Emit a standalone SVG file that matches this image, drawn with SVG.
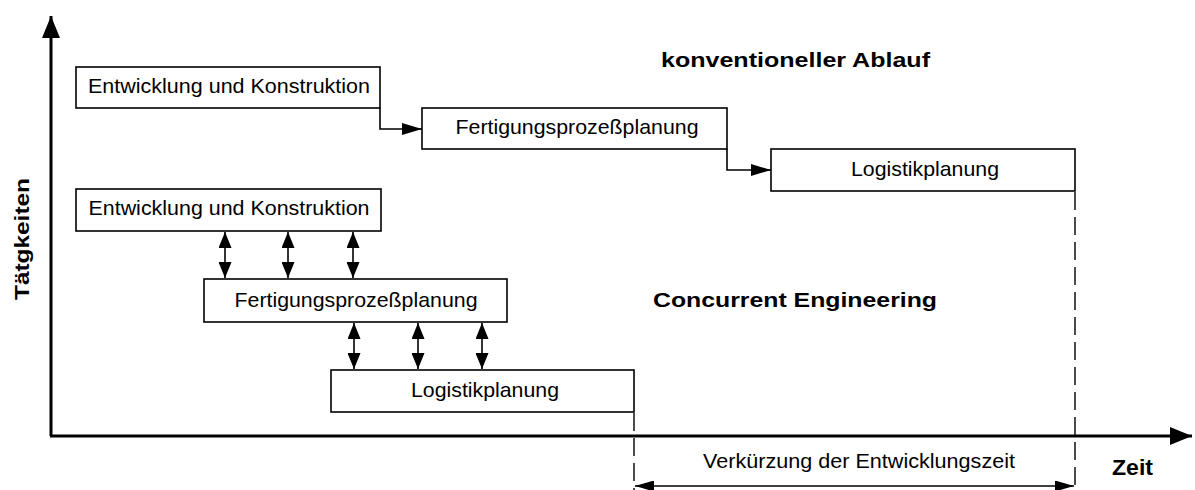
<svg xmlns="http://www.w3.org/2000/svg" width="1195" height="490" viewBox="0 0 1195 490">
<style>
.box{fill:#fff;stroke:#000;stroke-width:1.6}
.t{font-family:"Liberation Sans",Arial,sans-serif;font-size:21px;fill:#000;text-anchor:middle}
.b{font-family:"Liberation Sans",Arial,sans-serif;font-weight:bold;fill:#000}
.ln{fill:none;stroke:#000;stroke-width:1.6}
.axis{fill:none;stroke:#000;stroke-width:3}
.dash{fill:none;stroke:#000;stroke-width:1.4;stroke-dasharray:18 7}
</style>
<defs>
<marker id="ah" markerUnits="userSpaceOnUse" markerWidth="20" markerHeight="12" refX="20" refY="6" orient="auto"><path d="M0,0 L20,6 L0,12 z" fill="#000"/></marker>
<marker id="dh" markerUnits="userSpaceOnUse" markerWidth="16" markerHeight="13" refX="16" refY="6.5" orient="auto-start-reverse"><path d="M0,0 L16,6.5 L0,13 z" fill="#000"/></marker>
<marker id="axh" markerUnits="userSpaceOnUse" markerWidth="22" markerHeight="18" refX="22" refY="9" orient="auto"><path d="M0,0 L22,9 L0,18 z" fill="#000"/></marker>
<marker id="mh" markerUnits="userSpaceOnUse" markerWidth="19" markerHeight="11" refX="19" refY="5.5" orient="auto-start-reverse"><path d="M0,0 L19,5.5 L0,11 z" fill="#000"/></marker>
</defs>

<g id="axes">
<path class="axis" d="M51,436 V16" marker-end="url(#axh)"/>
<path class="axis" d="M50,436 H1192" marker-end="url(#axh)"/>
<text class="b" font-size="21" transform="translate(29,239) rotate(-90)" text-anchor="middle" textLength="122" lengthAdjust="spacingAndGlyphs">Tätgkeiten</text>
<text class="b" font-size="22" x="1112" y="475" textLength="41" lengthAdjust="spacingAndGlyphs">Zeit</text>
</g>

<g id="labels">
<text class="b" font-size="20" x="661" y="67" textLength="269" lengthAdjust="spacingAndGlyphs">konventioneller Ablauf</text>
<text class="b" font-size="21" x="653" y="307" textLength="284" lengthAdjust="spacingAndGlyphs">Concurrent Engineering</text>
</g>

<g id="conv-entwicklung">
<rect class="box" x="76" y="67" width="304" height="41"/>
<text class="t" x="229" y="93" textLength="282" lengthAdjust="spacingAndGlyphs">Entwicklung und Konstruktion</text>
</g>
<g id="conv-fertigung">
<rect class="box" x="422" y="108" width="305" height="41"/>
<text class="t" x="577" y="134" textLength="243" lengthAdjust="spacingAndGlyphs">Fertigungsprozeßplanung</text>
</g>
<g id="conv-logistik">
<rect class="box" x="771" y="149" width="304" height="42"/>
<text class="t" x="925" y="176" textLength="148" lengthAdjust="spacingAndGlyphs">Logistikplanung</text>
</g>

<g id="ce-entwicklung">
<rect class="box" x="76" y="189" width="305" height="42"/>
<text class="t" x="229" y="215" textLength="281" lengthAdjust="spacingAndGlyphs">Entwicklung und Konstruktion</text>
</g>
<g id="ce-fertigung">
<rect class="box" x="204" y="279" width="303" height="43"/>
<text class="t" x="356" y="307" textLength="243" lengthAdjust="spacingAndGlyphs">Fertigungsprozeßplanung</text>
</g>
<g id="ce-logistik">
<rect class="box" x="331" y="370" width="303" height="42"/>
<text class="t" x="485" y="397" textLength="148" lengthAdjust="spacingAndGlyphs">Logistikplanung</text>
</g>

<g id="connectors">
<path class="ln" d="M380,108 V129 H422" marker-end="url(#ah)"/>
<path class="ln" d="M727,149 V170 H771" marker-end="url(#ah)"/>
<path class="ln" d="M225,232 V278" marker-start="url(#dh)" marker-end="url(#dh)"/>
<path class="ln" d="M288,232 V278" marker-start="url(#dh)" marker-end="url(#dh)"/>
<path class="ln" d="M353,232 V278" marker-start="url(#dh)" marker-end="url(#dh)"/>
<path class="ln" d="M354,323 V369" marker-start="url(#dh)" marker-end="url(#dh)"/>
<path class="ln" d="M418,323 V369" marker-start="url(#dh)" marker-end="url(#dh)"/>
<path class="ln" d="M482,323 V369" marker-start="url(#dh)" marker-end="url(#dh)"/>
</g>

<g id="dimension">
<path class="dash" d="M1075,192 V490"/>
<path class="dash" d="M634,413 V490"/>
<path class="ln" d="M635,486 H1074" marker-start="url(#mh)" marker-end="url(#mh)"/>
<text class="t" font-size="20" x="859" y="468" textLength="312" lengthAdjust="spacingAndGlyphs" style="font-size:20px">Verkürzung der Entwicklungszeit</text>
</g>
</svg>
